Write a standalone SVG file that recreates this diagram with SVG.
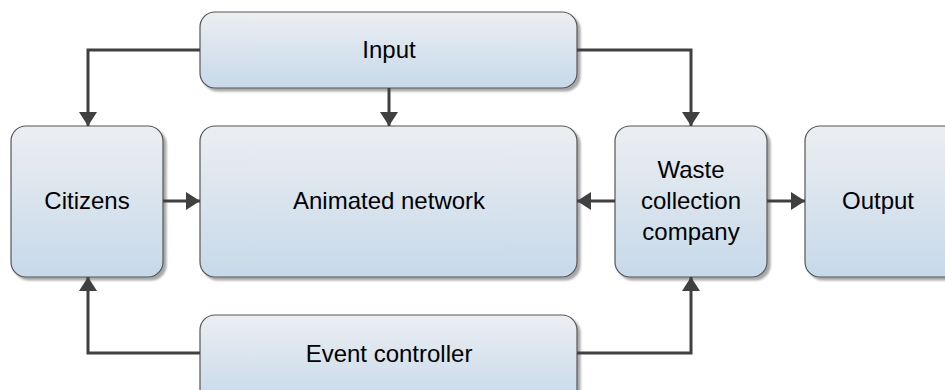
<svg xmlns="http://www.w3.org/2000/svg" width="945" height="390" viewBox="0 0 945 390">
<defs>
<linearGradient id="g" x1="0" y1="0" x2="0" y2="1">
<stop offset="0" stop-color="#eceef1"/>
<stop offset="1" stop-color="#c6d9ea"/>
</linearGradient>
<filter id="sh" x="-10%" y="-10%" width="130%" height="130%">
<feGaussianBlur in="SourceAlpha" stdDeviation="1.2"/>
<feOffset dx="3" dy="3" result="b"/>
<feComponentTransfer><feFuncA type="linear" slope="0.35"/></feComponentTransfer>
<feMerge><feMergeNode/><feMergeNode in="SourceGraphic"/></feMerge>
</filter>
<marker id="ah" markerWidth="16" markerHeight="18" refX="14" refY="9" orient="auto" markerUnits="userSpaceOnUse">
<path d="M0,0 L14,9 L0,18 Z" fill="#404040"/>
</marker>
</defs>
<style>
.box{fill:url(#g);stroke:#555;stroke-width:1.2;filter:url(#sh)}
.t{font-family:"Liberation Sans",Arial,sans-serif;font-size:24px;fill:#000;text-anchor:middle}
.c{fill:none;stroke:#404040;stroke-width:3;marker-end:url(#ah)}
</style>
<g id="input"><rect class="box" x="200" y="12" width="377" height="76" rx="15"/><text class="t" x="389" y="58">Input</text></g>
<g id="citizens"><rect class="box" x="11" y="126" width="152" height="151" rx="15"/><text class="t" x="87" y="209">Citizens</text></g>
<g id="network"><rect class="box" x="200" y="126" width="377" height="151" rx="15"/><text class="t" x="389" y="209">Animated network</text></g>
<g id="waste"><rect class="box" x="615" y="126" width="152" height="151" rx="15"/><text class="t" x="691" y="178">Waste</text><text class="t" x="691" y="209">collection</text><text class="t" x="691" y="240">company</text></g>
<g id="output"><rect class="box" x="805" y="126" width="160" height="151" rx="15"/><text class="t" x="878" y="209">Output</text></g>
<g id="event"><rect class="box" x="200" y="315" width="377" height="90" rx="15"/><text class="t" x="389" y="362">Event controller</text></g>
<g id="connectors">
<path class="c" d="M200,50 H88 V126"/>
<path class="c" d="M389,88 V126"/>
<path class="c" d="M577,50 H691 V126"/>
<path class="c" d="M200,353 H88 V277"/>
<path class="c" d="M577,353 H691 V277"/>
<path class="c" d="M163,201 H200"/>
<path class="c" d="M615,201 H577"/>
<path class="c" d="M767,201 H805"/>
</g>
</svg>
